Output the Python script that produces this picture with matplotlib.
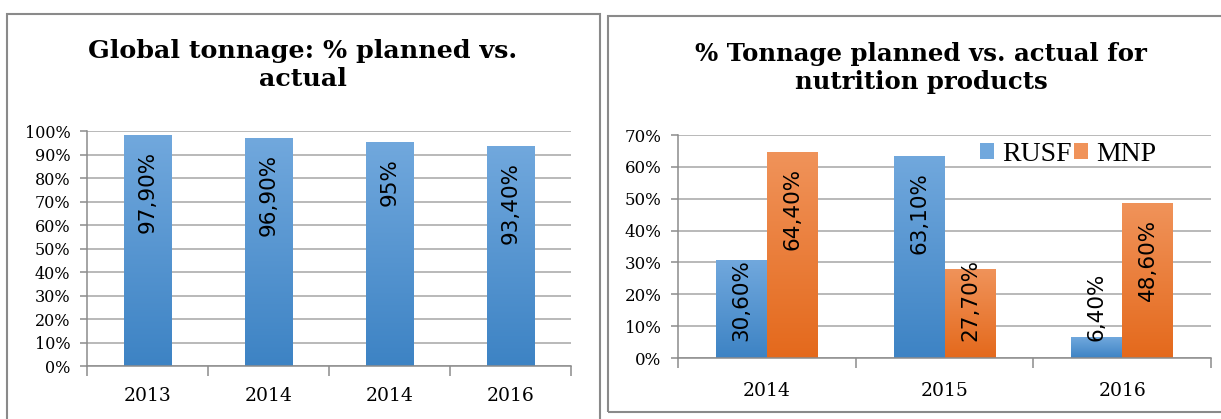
import matplotlib.pyplot as plt
import numpy as np
from matplotlib.patches import Rectangle
from matplotlib.ticker import FixedLocator, PercentFormatter

# data
years_left = ['2013', '2014', '2014', '2016']
global_pct = [97.9, 96.9, 95.0, 93.4]
global_lbl = ['97,90%', '96,90%', '95%', '93,40%']

years_right = ['2014', '2015', '2016']
rusf = [30.6, 63.1, 6.4]
mnp = [64.4, 27.7, 48.6]
rusf_lbl = ['30,60%', '63,10%', '6,40%']
mnp_lbl = ['64,40%', '27,70%', '48,60%']

BLUE = ('#3d83c4', '#71a8dd')    # bottom, top
ORANGE = ('#e4691c', '#f0935a')
GRID = '#a6a6a6'
AXC = '#8c8c8c'
SERIF = 'DejaVu Serif'

fig = plt.figure(figsize=(12.21, 4.19), dpi=100)
W, H = 1221, 419


def px(x0, y0, x1, y1):
    # pixel box (top-left origin) -> figure fraction rect
    return [x0 / W, 1 - y1 / H, (x1 - x0) / W, (y1 - y0) / H]


def grad_bar(ax, x, w, h, cols):
    cmap = plt.matplotlib.colors.LinearSegmentedColormap.from_list('g', cols)
    g = np.linspace(0, 1, 256).reshape(-1, 1)
    ax.imshow(g, cmap=cmap, origin='lower', aspect='auto',
              extent=[x - w / 2, x + w / 2, 0, h], zorder=2, interpolation='bilinear')


def style_axes(ax, n, ymax, step):
    ax.set_xlim(-0.5, n - 0.5)
    ax.set_ylim(0, ymax)
    ax.set_yticks(np.arange(0, ymax + 0.01, step))
    ax.yaxis.set_major_formatter(PercentFormatter(decimals=0))
    ax.grid(axis='y', color=GRID, lw=1.1, zorder=0)
    ax.set_axisbelow(True)
    for s in ['top', 'right']:
        ax.spines[s].set_visible(False)
    for s in ['left', 'bottom']:
        ax.spines[s].set_color(AXC)
        ax.spines[s].set_linewidth(1.1)
    ax.set_xticks(range(n))
    ax.xaxis.set_minor_locator(FixedLocator(np.arange(-0.5, n, 1)))
    ax.tick_params(axis='x', which='major', length=0, pad=15, labelsize=13.5)
    ax.tick_params(axis='x', which='minor', length=7, color=AXC, width=1.1)
    ax.tick_params(axis='y', length=5, color=AXC, width=1.1, pad=7)


# panel borders
fig.patches.append(Rectangle((7 / W, -0.05), 593 / W, 1.05 - 14 / H, transform=fig.transFigure,
                             fill=False, ec='#8a8a8a', lw=1.5))
fig.patches.append(Rectangle((608 / W, 1 - 412 / H), 0.7, (412 - 16) / H, transform=fig.transFigure,
                             fill=False, ec='#8a8a8a', lw=1.5))

# left chart
ax1 = fig.add_axes(px(87, 131, 571, 366))
style_axes(ax1, 4, 100, 10)
ax1.set_xticklabels(years_left)
ax1.tick_params(axis='y', labelsize=11.5)
for t in ax1.get_xticklabels() + ax1.get_yticklabels():
    t.set_fontfamily(SERIF)
labels = []
for i, v in enumerate(global_pct):
    grad_bar(ax1, i, 0.394, v, BLUE)
    labels.append((ax1, i, v, global_lbl[i]))
fig.text(303 / W, 1 - 65 / H, 'Global tonnage: % planned vs.\nactual', ha='center', va='center',
         fontfamily=SERIF, fontweight='bold', fontsize=18.3, linespacing=1.25)

# right chart
ax2 = fig.add_axes(px(678, 135, 1211, 358))
style_axes(ax2, 3, 70, 10)
ax2.set_xticklabels(years_right)
ax2.tick_params(axis='y', labelsize=12)
ax2.tick_params(axis='x', which='major', pad=17)
for t in ax2.get_xticklabels() + ax2.get_yticklabels():
    t.set_fontfamily(SERIF)
bw = 0.287
for i in range(3):
    grad_bar(ax2, i - bw / 2, bw, rusf[i], BLUE)
    grad_bar(ax2, i + bw / 2, bw, mnp[i], ORANGE)
    labels.append((ax2, i - bw / 2, rusf[i], rusf_lbl[i]))
    labels.append((ax2, i + bw / 2, mnp[i], mnp_lbl[i]))
h1 = Rectangle((0, 0), 1, 1, fc=BLUE[1])
h2 = Rectangle((0, 0), 1, 1, fc=ORANGE[1])
ax2.legend([h1, h2], ['RUSF', 'MNP'], loc='upper right', bbox_to_anchor=(0.945, 1.08), ncol=2,
           frameon=False, prop={'family': 'Liberation Serif', 'size': 20},
           handlelength=0.5, handleheight=0.5, handletextpad=0.3, columnspacing=0.1)
fig.text(921 / W, 1 - 68 / H, '% Tonnage planned vs. actual for\nnutrition products', ha='center',
         va='center', fontfamily=SERIF, fontweight='bold', fontsize=17.6, linespacing=1.25)

# value labels: inside end, or near base when bar is too short
fig.canvas.draw()
r = fig.canvas.get_renderer()
for ax, x, v, s in labels:
    t = ax.annotate(s, (x, v), xytext=(0, -11), textcoords='offset points', rotation=90,
                    ha='center', va='top', fontsize=15.5, fontfamily='DejaVu Sans', zorder=5)
    bb = t.get_window_extent(r)
    base = ax.transData.transform((x, 0))[1]
    if bb.y0 < base + 16:
        t.remove()
        ax.annotate(s, (x, 0), xytext=(0, 12), textcoords='offset points', rotation=90,
                    ha='center', va='bottom', fontsize=15.5, fontfamily='DejaVu Sans', zorder=5)

fig.savefig('out.png', dpi=100)
